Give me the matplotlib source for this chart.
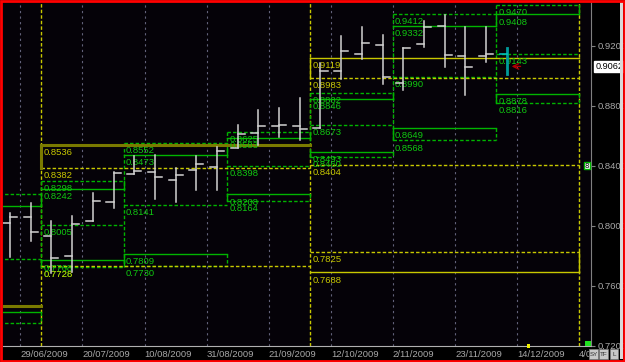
import numpy as np
import matplotlib.pyplot as plt
from matplotlib.patches import Rectangle
from matplotlib.transforms import blended_transform_factory, Bbox, TransformedBbox

# weekly bars, bar 0 is the week before 29/06/2009
bar_open = [0.8018, 0.8056, 0.7933, 0.7798, 0.8031, 0.8160, 0.8345, 0.8358, 0.8303,
            0.8371, 0.8393, 0.8521, 0.8621, 0.8665, 0.8667, 0.8649, 0.9033, 0.9143,
            0.9205, 0.8949, 0.9211, 0.9331, 0.9133, 0.9133, 0.9143]
bar_high = [0.8087, 0.8149, 0.8031, 0.8065, 0.8216, 0.8356, 0.8465, 0.8471, 0.8387,
            0.8465, 0.8527, 0.8671, 0.8771, 0.8783, 0.8853, 0.9083, 0.9267, 0.9323,
            0.9271, 0.9187, 0.9365, 0.9405, 0.9323, 0.9323, 0.9183]
bar_low = [0.7789, 0.7896, 0.7683, 0.7693, 0.8031, 0.8120, 0.8345, 0.8178, 0.8156,
           0.8238, 0.8238, 0.8515, 0.8538, 0.8589, 0.8571, 0.8649, 0.8978, 0.9109,
           0.8943, 0.8905, 0.9193, 0.9060, 0.8871, 0.9093, 0.9011]
bar_close = [0.8061, 0.7960, 0.7787, 0.8009, 0.8165, 0.8349, 0.8365, 0.8323, 0.8338,
             0.8411, 0.8498, 0.8610, 0.8665, 0.8669, 0.8645, 0.9031, 0.9165, 0.9220,
             0.8993, 0.9183, 0.9327, 0.9138, 0.9056, 0.9145, 0.9062]
last_price = 0.9062

date_labels = ['29/06/2009', '20/07/2009', '10/08/2009', '31/08/2009', '21/09/2009',
               '12/10/2009', '2/11/2009', '23/11/2009', '14/12/2009', '4/01/2010']

# monthly levels (green), periods in bar units
month_edges = [-1.0, 1.5, 5.5, 10.5, 14.5, 18.5, 23.5, 27.5]
month_r_hi = [0.8211, 0.8298, 0.8552, 0.8625, 0.8882, 0.9412, 0.9470]
month_r_lo = [0.8131, 0.8242, 0.8473, 0.8583, 0.8846, 0.9332, 0.9408]
month_pivot = [0.7778, 0.8005, 0.8141, 0.8398, 0.8673, 0.8990, 0.9143]
month_s_hi = [0.7425, 0.7768, 0.7809, 0.8208, 0.8493, 0.8649, 0.8878]
month_s_lo = [0.7351, 0.7726, 0.7730, 0.8164, 0.8460, 0.8568, 0.8816]

# quarterly levels (yellow)
nan = np.nan
quarter_edges = [-1.0, 1.5, 14.5, 27.5]
q_r_hi = [nan, 0.8536, 0.9119]
q_r_lo = [nan, 0.8382, 0.8983]
q_pivot = [nan, nan, 0.8404]
q_s_hi = [nan, 0.7728, 0.7825]
q_s_lo = [0.7465, nan, 0.7688]

GREEN = '#00b400'
GREEN_TXT = '#10c810'
YELLOW = '#c8c800'
OLIVE = '#7a7a00'
GRAY = '#a8a8a8'
DASH = (0, (2.5, 1.5))
NARROW = ['Liberation Sans Narrow', 'Liberation Sans', 'DejaVu Sans']

fig = plt.figure(figsize=(6.25, 3.62), dpi=100)
fig.patch.set_facecolor('#000000')
ax = fig.add_axes([3 / 625, 16 / 362, 588 / 625, 344 / 362])
ax.set_facecolor('#050208')
ax.set_xlim(-0.34, 28.07)
ax.set_ylim(0.7198, 0.94913)
xmin = ax.get_xlim()[0]

# vertical date grid
grid_x = [0.5 + 3 * j for j in range(len(date_labels))]
for gx in grid_x:
    ax.axvline(gx, color='#62627a', lw=0.8, ls=(0, (2, 3)), zorder=1)


def label(x, v, txt, color):
    if x < xmin:
        return
    ax.annotate(txt, (x, v), xytext=(1.5, -2.2), textcoords='offset points',
                va='top', ha='left', fontsize=6.8, family=NARROW,
                color=color, zorder=5, annotation_clip=False, clip_on=True)


# monthly boxes
for i in range(len(month_r_hi)):
    x0, x1 = month_edges[i], month_edges[i + 1]
    rows = [(month_r_hi[i], DASH), (month_r_lo[i], '-'), (month_pivot[i], DASH),
            (month_s_hi[i], '-'), (month_s_lo[i], DASH)]
    for v, ls in rows:
        ax.plot([x0, x1], [v, v], color=GREEN, lw=1, ls=ls, zorder=3)
        label(x0, v, f'{v:.4f}', GREEN_TXT)
    ax.plot([x1, x1], [month_r_hi[i], month_r_lo[i]], color=GREEN, lw=1, zorder=3)
    ax.plot([x0, x0], [month_s_hi[i], month_s_lo[i]], color=GREEN, lw=1, zorder=3)
    ax.plot([x1, x1], [month_s_hi[i], month_s_lo[i]], color=GREEN, lw=1, ls=DASH, zorder=3)
    ax.plot([x0, x0], [month_r_hi[i], month_s_lo[i]], color=GREEN, lw=1, ls=DASH, zorder=3)

# quarterly boxes
for gx in quarter_edges[1:]:
    ax.axvline(gx, color=YELLOW, lw=1, ls=DASH, zorder=2)
for i in range(len(q_r_hi)):
    x0, x1 = quarter_edges[i], quarter_edges[i + 1]
    past = i < 2
    solid_c = OLIVE if past else YELLOW
    solid_w = 2.2 if past else 1
    for v, ls in [(q_r_hi[i], '-'), (q_r_lo[i], DASH), (q_pivot[i], DASH),
                  (q_s_hi[i], DASH), (q_s_lo[i], '-')]:
        if np.isnan(v):
            continue
        if ls == '-':
            ax.plot([x0, x1], [v, v], color=solid_c, lw=solid_w, zorder=4)
        else:
            ax.plot([x0, x1], [v, v], color=YELLOW, lw=1, ls=DASH, zorder=4)
        label(x0, v, f'{v:.4f}', YELLOW)
    if not np.isnan(q_r_hi[i]):
        ax.plot([x0, x0], [q_r_hi[i], q_r_lo[i]], color=solid_c, lw=solid_w, zorder=4)
    if not np.isnan(q_s_lo[i]) and not np.isnan(q_s_hi[i]):
        ax.plot([x1, x1], [q_s_hi[i], q_s_lo[i]], color=solid_c, lw=1, zorder=4)

# OHLC bars
n = len(bar_open)
for k in range(n):
    c = '#d2d2d2' if k < n - 1 else '#009c9c'
    w = 1.1 if k < n - 1 else 2
    ax.plot([k, k], [bar_low[k], bar_high[k]], color=c, lw=w, zorder=6)
    ax.plot([k - 0.34, k], [bar_open[k], bar_open[k]], color=c if k < n - 1 else '#00c8c8', lw=1.1, zorder=6)
    if k < n - 1:
        ax.plot([k, k + 0.34], [bar_close[k], bar_close[k]], color=c, lw=1.1, zorder=6)
ax.annotate('', xy=(n - 1 + 0.1, last_price), xytext=(n - 1 + 0.8, last_price),
            arrowprops=dict(arrowstyle='->', color='#b00000', lw=1), zorder=7)

# axes styling
for s in ['left', 'top']:
    ax.spines[s].set_visible(False)
ax.spines['right'].set_color('#808080')
ax.spines['bottom'].set_color('#b0b0b0')
ax.yaxis.tick_right()
yt = [0.72, 0.76, 0.80, 0.84, 0.88, 0.92]
ax.set_yticks(yt)
ax.set_yticklabels([f'{v:.4f}' for v in yt], family=NARROW)
ax.tick_params(axis='y', colors='#808080', labelcolor=GRAY, labelsize=6.8,
               length=3, width=0.8, pad=1.5)
ax.set_xticks(grid_x)
ax.set_xticklabels(date_labels, ha='left', family=NARROW)
ax.tick_params(axis='x', length=0, labelcolor=GRAY, labelsize=6.8, pad=3)
# the last date sits under the buttons, only its start shows
clip = TransformedBbox(Bbox([[0, 0], [589 / 625, 1]]), fig.transFigure)
last_lab = ax.get_xticklabels()[-1]
last_lab.set_clip_on(True)
last_lab.set_clip_box(clip)

tr = blended_transform_factory(ax.transAxes, ax.transData)
ax.annotate(f'{last_price:.4f}', (1, last_price), xycoords=tr, xytext=(3.5, 0),
            textcoords='offset points', va='center', ha='left', fontsize=6.6,
            family=NARROW, color='#000000', annotation_clip=False,
            bbox=dict(boxstyle='square,pad=0.15', fc='white', ec='white'))
ax.text(27.88, 0.8400, '8', fontsize=5, color='#000000', va='center', ha='center',
        bbox=dict(boxstyle='square,pad=0.1', fc='white', ec=GREEN, lw=1), zorder=8)

# frame, scrollbar, buttons
fig.patches.append(Rectangle((585 / 625, 16 / 362), 6 / 625, 5 / 362,
                             transform=fig.transFigure, fc='#20e020', ec='none'))
fig.patches.append(Rectangle((527 / 625, 14 / 362), 3 / 625, 4 / 362,
                             transform=fig.transFigure, fc='#f0f000', ec='none'))
fig.patches.append(Rectangle((620 / 625, 3 / 362), 3 / 625, 357 / 362,
                             transform=fig.transFigure, fc='#d8d8d8', ec='none'))
for bx, bw, txt in [(589, 9, 'SY'), (599, 9, 'TF'), (610, 8, 'L')]:
    fig.patches.append(Rectangle((bx / 625, 3 / 362), bw / 625, 10 / 362,
                                 transform=fig.transFigure, fc='#c8c8c8',
                                 ec='#808080', lw=0.5))
    fig.text((bx + bw / 2) / 625, 8 / 362, txt, fontsize=4.5, color='#303030',
             va='center', ha='center', family=NARROW)
fig.patches.append(Rectangle((0.0016, 0.0028), 0.9968, 0.9944, transform=fig.transFigure,
                             fc='none', ec='#ff0000', lw=2))

fig.savefig('out.png', dpi=100, facecolor=fig.get_facecolor())
